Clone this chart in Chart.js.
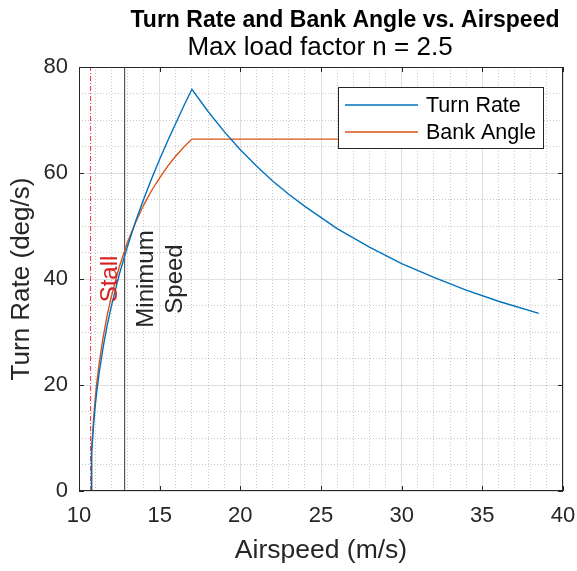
<!DOCTYPE html>
<html>
<head>
<meta charset="utf-8">
<script src="https://cdn.jsdelivr.net/npm/chart.js"></script>
<style>
  html, body { margin: 0; padding: 0; background: #fff; }
</style>
</head>
<body>
<canvas id="chart" width="577" height="571"></canvas>
<script>
// values
const airspeed = [10.75, 10.76, 10.78, 10.8, 10.85, 10.9, 11, 11.1, 11.25, 11.5, 11.75,
  12, 12.5, 13, 13.5, 14, 14.5, 15, 15.5, 16, 16.5, 17,
  18, 19, 20, 21, 22, 23, 24, 26, 28, 30, 32, 34, 36, 38.5];
const turnRate = [0, 3.2, 5.5, 7.1, 10.1, 12.3, 15.9, 18.7, 22.3, 27.2, 31.3,
  34.8, 40.9, 46.1, 50.8, 55.0, 58.9, 62.6, 66.1, 69.4, 72.7, 75.8,
  71.6, 67.8, 64.4, 61.3, 58.5, 56.0, 53.7, 49.5, 46.0, 42.9, 40.3, 37.9, 35.8, 33.5];
const bankAngle = [0, 3.5, 6.0, 7.8, 11.0, 13.4, 17.2, 20.3, 24.1, 29.1, 33.2,
  36.6, 42.3, 46.9, 50.6, 53.9, 56.7, 59.1, 61.3, 63.2, 64.9, 66.4,
  66.4, 66.4, 66.4, 66.4, 66.4, 66.4, 66.4, 66.4, 66.4, 66.4, 66.4, 66.4, 66.4, 66.4];
const stallSpeed = 10.72;
const minimumSpeed = 12.83;
const xTickLabels = [10, 15, 20, 25, 30, 35, 40];
const yTickLabels = [0, 20, 40, 60, 80];

const FONT = '"Liberation Sans", Arial, Helvetica, sans-serif';
const axisColor = '#262626';

function pts(ys) {
  return airspeed.map((x, i) => ({ x: x, y: ys[i] }));
}

// Rahmen, Ticks nach innen, Legende, Beschriftungen (MATLAB-Optik)
const matlabLook = {
  id: 'matlabLook',
  afterDatasetsDraw(chart) {
    const { ctx, chartArea: a, scales: { x, y } } = chart;
    ctx.save();

    // Texte an den Linien
    const notes = [
      { text: 'Stall', x: 11.95, y: 40, color: '#D92020' },
      { text: 'Minimum', x: 14.15, y: 40, color: axisColor },
      { text: 'Speed', x: 16.0, y: 40, color: axisColor }
    ];
    ctx.font = '24px ' + FONT;
    ctx.textAlign = 'center';
    ctx.textBaseline = 'middle';
    notes.forEach(n => {
      ctx.save();
      ctx.translate(x.getPixelForValue(n.x), y.getPixelForValue(n.y));
      ctx.rotate(-Math.PI / 2);
      ctx.fillStyle = n.color;
      ctx.fillText(n.text, 0, 0);
      ctx.restore();
    });

    // Achsenrahmen
    ctx.strokeStyle = axisColor;
    ctx.lineWidth = 1;
    ctx.strokeRect(a.left + 0.5, a.top + 0.5, a.right - a.left - 1, a.bottom - a.top - 1);

    // Ticks nach innen auf allen vier Seiten
    const tl = 5;
    ctx.beginPath();
    xTickLabels.forEach(v => {
      const px = Math.round(x.getPixelForValue(v)) + 0.5;
      ctx.moveTo(px, a.bottom); ctx.lineTo(px, a.bottom - tl);
      ctx.moveTo(px, a.top); ctx.lineTo(px, a.top + tl);
    });
    yTickLabels.forEach(v => {
      const py = Math.round(y.getPixelForValue(v)) + 0.5;
      ctx.moveTo(a.left, py); ctx.lineTo(a.left + tl, py);
      ctx.moveTo(a.right, py); ctx.lineTo(a.right - tl, py);
    });
    ctx.stroke();

    // Legende oben rechts im Plot
    const bw = 205, bh = 61;
    const bx = a.right - 20 - bw, by = a.top + 20;
    ctx.fillStyle = '#fff';
    ctx.fillRect(bx, by, bw, bh);
    ctx.strokeStyle = axisColor;
    ctx.strokeRect(bx + 0.5, by + 0.5, bw, bh);
    ctx.font = '21.5px ' + FONT;
    ctx.textAlign = 'left';
    ctx.textBaseline = 'middle';
    chart.data.datasets.slice(0, 2).forEach((ds, i) => {
      const ry = by + 18 + i * 27;
      ctx.strokeStyle = ds.borderColor;
      ctx.lineWidth = 1.5;
      ctx.beginPath();
      ctx.moveTo(bx + 7, ry); ctx.lineTo(bx + 80, ry);
      ctx.stroke();
      ctx.fillStyle = '#000';
      ctx.fillText(ds.label, bx + 88, ry + 1);
    });

    // Titel und Untertitel
    ctx.fillStyle = '#000';
    ctx.textAlign = 'center';
    ctx.textBaseline = 'alphabetic';
    ctx.font = 'bold 23px ' + FONT;
    ctx.fillText('Turn Rate and Bank Angle vs. Airspeed', 345, 27);
    ctx.font = '26px ' + FONT;
    ctx.fillText('Max load factor n = 2.5', (a.left + a.right) / 2 - 1, 55);

    ctx.restore();
  }
};

const majorGrid = 'rgba(38,38,38,0.15)';
const minorGrid = 'rgba(38,38,38,0.25)';

new Chart(document.getElementById('chart'), {
  type: 'line',
  data: {
    datasets: [
      { label: 'Turn Rate', data: pts(turnRate), borderColor: '#0072BD', borderWidth: 1.4, pointRadius: 0, tension: 0 },
      { label: 'Bank Angle', data: pts(bankAngle), borderColor: '#D95319', borderWidth: 1.4, pointRadius: 0, tension: 0 },
      { label: 'Stall', data: [{ x: stallSpeed, y: 0 }, { x: stallSpeed, y: 80 }], borderColor: '#E8303A', borderWidth: 1, borderDash: [5, 2, 1, 2], pointRadius: 0 },
      { label: 'Minimum Speed', data: [{ x: minimumSpeed, y: 0 }, { x: minimumSpeed, y: 80 }], borderColor: '#3a3a3a', borderWidth: 1, pointRadius: 0 }
    ]
  },
  options: {
    responsive: false,
    devicePixelRatio: 1,
    animation: false,
    layout: { padding: { top: 67, right: 14, left: 0, bottom: 0 } },
    plugins: { legend: { display: false }, tooltip: { enabled: false } },
    scales: {
      x: {
        type: 'linear',
        min: 10, max: 40,
        afterFit: s => { s.height = 80; s.paddingLeft = 0; s.paddingRight = 0; },
        ticks: {
          stepSize: 1, autoSkip: false, maxRotation: 0, padding: 12,
          color: axisColor, font: { family: FONT, size: 22 },
          callback: v => xTickLabels.includes(v) ? String(v) : ''
        },
        grid: {
          drawTicks: false,
          color: c => (xTickLabels.includes(c.tick.value) ? majorGrid : minorGrid)
        },
        border: {
          display: false,
          dash: c => (xTickLabels.includes(c.tick.value) ? [] : [1, 2])
        },
        title: { display: true, text: 'Airspeed (m/s)', color: axisColor, font: { family: FONT, size: 26.5 }, padding: { top: 0, bottom: 4 } }
      },
      y: {
        min: 0, max: 80,
        afterFit: s => { s.width = 79; s.paddingTop = 0; s.paddingBottom = 0; },
        ticks: {
          stepSize: 5, autoSkip: false, padding: 11,
          color: axisColor, font: { family: FONT, size: 22 },
          callback: v => yTickLabels.includes(v) ? String(v) : ''
        },
        grid: {
          drawTicks: false,
          color: c => (yTickLabels.includes(c.tick.value) ? majorGrid : minorGrid)
        },
        border: {
          display: false,
          dash: c => (yTickLabels.includes(c.tick.value) ? [] : [1, 2])
        },
        title: { display: true, text: 'Turn Rate (deg/s)', color: axisColor, font: { family: FONT, size: 26 }, padding: { top: 6, bottom: 0 } }
      }
    }
  },
  plugins: [matlabLook]
});
</script>
</body>
</html>
